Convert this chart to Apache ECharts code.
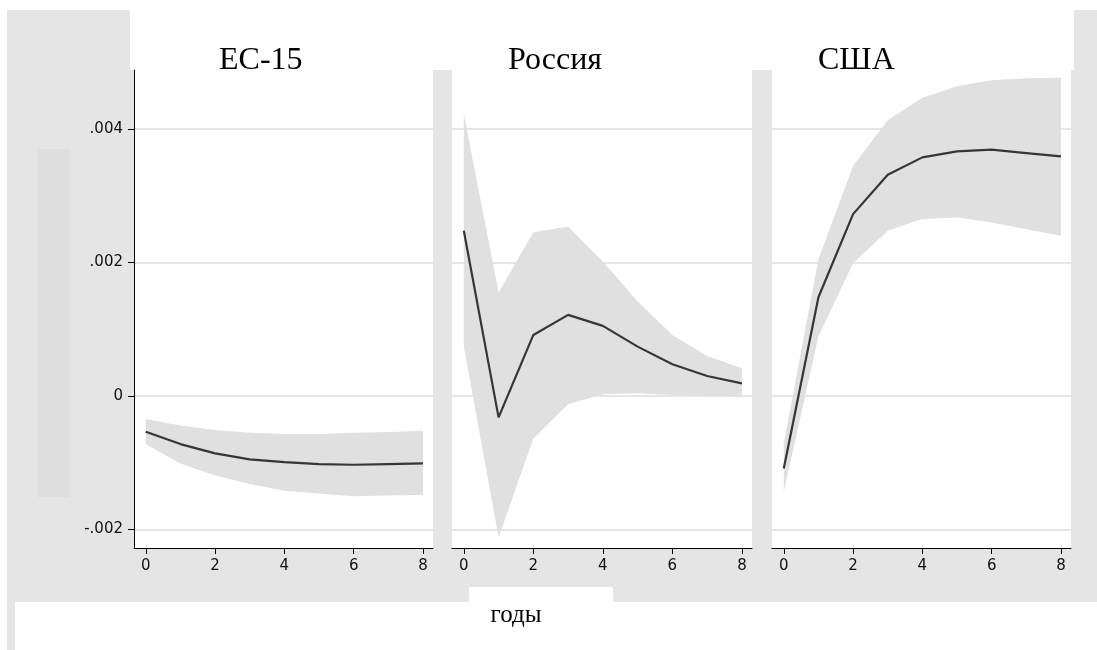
<!DOCTYPE html>
<html><head><meta charset="utf-8">
<script src="https://cdn.jsdelivr.net/npm/echarts@6/dist/echarts.min.js"></script>
<style>html,body{margin:0;padding:0;background:#fff}#c{width:1097px;height:650px}</style>
</head><body><div id="c"></div>
<script>
// ---- data ----
const years = [0, 1, 2, 3, 4, 5, 6, 7, 8];
const panelTitles = ['ЕС-15', 'Россия', 'США'];
const xAxisTitle = 'годы';
const yTickValues = [-0.002, 0, 0.002, 0.004];
const xTickValues = [0, 2, 4, 6, 8];

const euIrf = [-0.000535, -0.00072, -0.00086, -0.00095, -0.00099, -0.00102, -0.00103, -0.00102, -0.00101];
const euLo  = [-0.000724, -0.00101, -0.00119, -0.00132, -0.00142, -0.00146, -0.00150, -0.00149, -0.00148];
const euHi  = [-0.000345, -0.00044, -0.00051, -0.00055, -0.00057, -0.00057, -0.00055, -0.00054, -0.00052];

const ruIrf = [0.002475, -0.00032, 0.000915, 0.001215, 0.00105, 0.00074, 0.000475, 0.0003, 0.00019];
const ruLo  = [0.00074, -0.00212, -0.000635, -0.000125, 0.000025, 0.00004, 0.000015, 0.0, -0.00002];
const ruHi  = [0.00423, 0.00155, 0.002455, 0.00254, 0.002015, 0.001415, 0.000915, 0.0006, 0.000415];

const usIrf = [-0.001085, 0.00148, 0.002725, 0.003315, 0.003575, 0.003665, 0.00369, 0.00364, 0.00359];
const usLo  = [-0.001435, 0.00089, 0.00199, 0.002475, 0.00265, 0.002675, 0.0026, 0.0025, 0.0024];
const usHi  = [-0.00071, 0.00205, 0.00345, 0.00413, 0.00447, 0.00464, 0.00473, 0.00476, 0.00477];

const panels = [
  { irf: euIrf, lo: euLo, hi: euHi },
  { irf: ruIrf, lo: ruLo, hi: ruHi },
  { irf: usIrf, lo: usLo, hi: usHi }
];

// ---- layout ----
const gridBoxes = [
  { left: 134, top: 70, width: 299, height: 478 },
  { left: 452, top: 70, width: 300, height: 478 },
  { left: 772, top: 70, width: 299, height: 478 }
];
const titlePos = [[219, 60.5], [508, 60.5], [818, 60.5]];
const sans = '"DejaVu Sans", "Liberation Sans", Arial, sans-serif';
const serif = '"Liberation Serif", "Times New Roman", serif';

function fmtY(v) {
  if (Math.abs(v) < 1e-12) return '0';
  return v.toFixed(3).replace(/^(-?)0\./, '$1.');
}

const grid = [], xAxis = [], yAxis = [], series = [];
panels.forEach((p, k) => {
  grid.push(Object.assign({ show: true, backgroundColor: '#ffffff', borderWidth: 0 }, gridBoxes[k]));
  xAxis.push({
    type: 'value', gridIndex: k, min: -0.34, max: 8.29,
    axisLine: { show: true, onZero: false, lineStyle: { color: '#000', width: 1 } },
    axisTick: { show: true, length: 6, customValues: xTickValues, lineStyle: { color: '#000', width: 1 } },
    axisLabel: { customValues: xTickValues, margin: 11, fontSize: 15, color: '#111', fontFamily: sans },
    splitLine: { show: false }
  });
  yAxis.push({
    type: 'value', gridIndex: k, min: -0.002277, max: 0.004884,
    axisLine: { show: k === 0, onZero: false, lineStyle: { color: '#000', width: 1 } },
    axisTick: { show: k === 0, length: 6, customValues: yTickValues, lineStyle: { color: '#000', width: 1 } },
    axisLabel: { show: k === 0, customValues: yTickValues, margin: 11, fontSize: 15, color: '#111', fontFamily: sans, formatter: fmtY },
    splitLine: { show: true, lineStyle: { color: '#e6e6e6', width: 2 } }
  });
  series.push({
    type: 'custom', xAxisIndex: k, yAxisIndex: k, z: 2, silent: true,
    data: years.map((x, i) => [x, p.lo[i], p.hi[i]]),
    encode: { x: 0, y: [1, 2] },
    renderItem: function (params, api) {
      if (params.dataIndex !== 0) return;
      const pts = [];
      for (let i = 0; i < years.length; i++) pts.push(api.coord([years[i], p.hi[i]]));
      for (let i = years.length - 1; i >= 0; i--) pts.push(api.coord([years[i], p.lo[i]]));
      return { type: 'polygon', shape: { points: pts }, style: { fill: '#e0e0e0' } };
    }
  });
  series.push({
    type: 'line', xAxisIndex: k, yAxisIndex: k, z: 3, silent: true,
    data: years.map((x, i) => [x, p.irf[i]]),
    showSymbol: false, symbol: 'none',
    lineStyle: { color: '#363636', width: 2.2 }
  });
});

const graphic = [
  { type: 'rect', z: -10, shape: { x: 7, y: 10, width: 1090, height: 592 }, style: { fill: '#e5e5e5' } },
  { type: 'rect', z: -10, shape: { x: 7, y: 602, width: 8, height: 48 }, style: { fill: '#e5e5e5' } },
  { type: 'rect', z: -9, shape: { x: 130, y: 10, width: 944, height: 60 }, style: { fill: '#ffffff' } },
  { type: 'rect', z: -9, shape: { x: 37, y: 149, width: 32, height: 348 }, style: { fill: '#dedede' } },
  { type: 'rect', z: -9, shape: { x: 469, y: 587, width: 144, height: 15 }, style: { fill: '#ffffff' } },
  { type: 'text', z: 10, style: { text: xAxisTitle, x: 516, y: 615, align: 'center', verticalAlign: 'middle', fontSize: 25, fontFamily: serif, fill: '#000' } }
];
panelTitles.forEach((t, k) => {
  graphic.push({ type: 'text', z: 10, style: { text: t, x: titlePos[k][0], y: titlePos[k][1], align: 'left', verticalAlign: 'middle', fontSize: 32, fontFamily: serif, fill: '#000' } });
});

const chart = echarts.init(document.getElementById('c'), null, { renderer: 'canvas' });
chart.setOption({ animation: false, backgroundColor: '#ffffff', grid, xAxis, yAxis, series, graphic });
</script></body></html>
